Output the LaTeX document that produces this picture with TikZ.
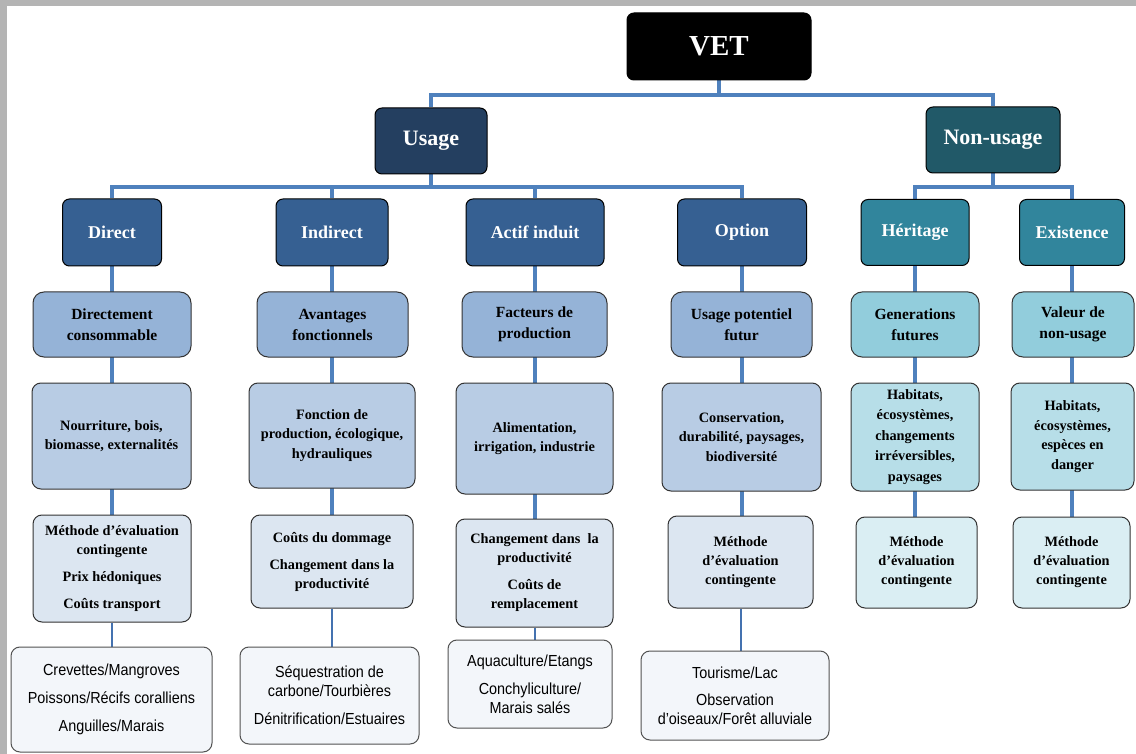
\documentclass[tikz,border=0pt]{standalone}
\usepackage{fontspec}
\setmainfont{Liberation Serif}
\newfontfamily\nsans[FakeStretch=0.9]{Liberation Sans}
\usetikzlibrary{backgrounds}
\definecolor{frame}{HTML}{B4B4B4}
\definecolor{conn}{HTML}{4F81BD}
\definecolor{connb}{HTML}{4472B0}
\definecolor{usagec}{HTML}{243F60}
\definecolor{nonusagec}{HTML}{215968}
\definecolor{ltwo}{HTML}{366092}
\definecolor{ltwon}{HTML}{31859C}
\definecolor{lthree}{HTML}{95B3D7}
\definecolor{lthreen}{HTML}{92CDDC}
\definecolor{lfour}{HTML}{B8CCE4}
\definecolor{lfourn}{HTML}{B7DEE8}
\definecolor{lfive}{HTML}{DCE6F1}
\definecolor{lfiven}{HTML}{DAEEF3}
\definecolor{lsix}{HTML}{F3F6FA}
\definecolor{edge}{HTML}{333333}
\begin{document}
\begin{tikzpicture}[x=1pt,y=-1pt,
  sz/.style 2 args={minimum width=#1pt, minimum height=#2pt},
  box/.style={draw=edge, line width=1pt, rounded corners=9pt, align=center, inner sep=1pt},
  lone/.style={box, draw=black, rounded corners=7pt, text=white, font=\fontsize{22}{24}\selectfont\bfseries},
  vet/.style={lone, fill=black, font=\fontsize{29}{31}\selectfont\bfseries},
  ltw/.style={box, draw=black, rounded corners=7pt, fill=ltwo, text=white, font=\fontsize{18}{20}\selectfont\bfseries},
  ltwn/.style={ltw, fill=ltwon},
  lth/.style={box, rounded corners=11pt, fill=lthree, font=\fontsize{15.5}{21}\selectfont\bfseries},
  lthn/.style={lth, fill=lthreen},
  lfo/.style={box, fill=lfour, font=\fontsize{14.3}{19.5}\selectfont\bfseries},
  lfon/.style={lfo, fill=lfourn},
  lfi/.style={box, fill=lfive, font=\fontsize{14.3}{19}\selectfont\bfseries},
  lfin/.style={lfi, fill=lfiven},
  lsx/.style={box, draw=edge!85, fill=lsix, font=\nsans\fontsize{16}{19}\selectfont},
  cn/.style={draw=conn, line width=3.3pt},
  cnb/.style={draw=connb, line width=2pt}]
\useasboundingbox (0,0) rectangle (1136,754);

% level 0 and 1
\node[vet, sz={184}{67}] (vet) at (719,46.5) {VET};
\node[lone, fill=usagec, sz={112}{66}] (usage) at (431,141) {Usage};
\node[lone, fill=nonusagec, sz={134}{66}] (nonusage) at (993,140) {Non-usage};

% level 2
\node[ltw, sz={99}{67}] (direct) at (112,232.5) {Direct};
\node[ltw, sz={112}{67}] (indirect) at (332,232.5) {Indirect};
\node[ltw, sz={138}{67}] (actif) at (535,232.5) {Actif induit};
\node[ltw, sz={129}{67}] (option) at (742,232.5) {Option};
\node[ltwn, sz={108}{66}] (heritage) at (915,232.5) {Héritage};
\node[ltwn, sz={105}{66}] (existence) at (1072,232.5) {Existence};

% level 3
\node[lth, sz={158}{65}] (d3) at (112,324.5) {Directement\\consommable};
\node[lth, sz={151}{65}] (i3) at (332.5,324.5) {Avantages\\fonctionnels};
\node[lth, sz={145}{65}] (a3) at (534.5,324.5) {Facteurs de\\production};
\node[lth, sz={141}{65}] (o3) at (741.5,324.5) {Usage potentiel\\futur};
\node[lthn, sz={128}{65}] (h3) at (915,324.5) {Generations\\futures};
\node[lthn, sz={122}{65}] (e3) at (1073,324.5) {Valeur de\\non-usage};

% level 4
\node[lfo, sz={159}{106}] (d4) at (111.5,436) {Nourriture, bois,\\biomasse, externalités};
\node[lfo, sz={166}{105}] (i4) at (332,435.5) {Fonction de\\production, écologique,\\hydrauliques};
\node[lfo, sz={157}{111}] (a4) at (534.5,438.5) {Alimentation,\\irrigation, industrie};
\node[lfo, sz={159}{108}] (o4) at (741.5,437) {Conservation,\\durabilité, paysages,\\biodiversité};
\node[lfon, sz={128}{108}, font=\fontsize{14.3}{20.5}\selectfont\bfseries] (h4) at (915,437) {Habitats,\\écosystèmes,\\changements\\irréversibles,\\paysages};
\node[lfon, sz={123}{107}] (e4) at (1072.5,436.5) {Habitats,\\écosystèmes,\\espèces en\\danger};

% level 5
\node[lfi, sz={158}{107}] (d5) at (112,568.5) {Méthode d’évaluation\\contingente\\[8pt]Prix hédoniques\\[8pt]Coûts transport};
\node[lfi, sz={162}{93}] (i5) at (332,561.5) {Coûts du dommage\\[8pt]Changement dans la\\productivité};
\node[lfi, sz={157}{108}] (a5) at (534.5,573) {Changement dans\ \ la\\productivité\\[8pt]Coûts de\\remplacement};
\node[lfi, sz={145}{92}] (o5) at (740.5,562) {Méthode\\d’évaluation\\contingente};
\node[lfin, sz={121}{91}] (h5) at (916.5,562.5) {Méthode\\d'évaluation\\contingente};
\node[lfin, sz={117}{91}] (e5) at (1071.5,562.5) {Méthode\\d’évaluation\\contingente};

% level 6
\node[lsx, sz={201}{105}] (d6) at (111.5,699.5) {Crevettes/Mangroves\\[9pt]Poissons/Récifs coralliens\\[9pt]Anguilles/Marais};
\node[lsx, sz={179}{97}] (i6) at (329.5,695.5) {Séquestration de\\carbone/Tourbières\\[9pt]Dénitrification/Estuaires};
\node[lsx, sz={164}{88}] (a6) at (530,684) {Aquaculture/Etangs\\[9pt]Conchyliculture/\\Marais salés};
\node[lsx, sz={188}{89}] (o6) at (735,695.5) {Tourisme/Lac\\[8pt]Observation\\d’oiseaux/Forêt alluviale};

\coordinate (j0) at (719,95);
\coordinate (j1) at (431,187);
\coordinate (j2) at (993,187);

\begin{scope}[on background layer]
  \fill[frame] (0,0) rectangle (1136,754);
  \fill[white] (7,6) rectangle (1136,754);
  \draw[cn] (vet.south) -- (j0) -| (usage.north);
  \draw[cn] (j0) -| (nonusage.north);
  \draw[cn] (usage.south) -- (j1) -| (direct.north);
  \draw[cn] (j1) -| (indirect.north);
  \draw[cn] (j1) -| (actif.north);
  \draw[cn] (j1) -| (option.north);
  \draw[cn] (nonusage.south) -- (j2) -| (heritage.north);
  \draw[cn] (j2) -| (existence.north);
  \draw[cn] (direct) -- (direct |- d5);
  \draw[cn] (indirect) -- (indirect |- i5);
  \draw[cn] (actif) -- (actif |- a5);
  \draw[cn] (option) -- (option |- o5);
  \draw[cn] (heritage) -- (heritage |- h5);
  \draw[cn] (existence) -- (existence |- e5);
  \draw[cnb] (d5) -- (d5 |- d6);
  \draw[cnb] (i5) -- (i5 |- i6);
  \draw[cnb] (a5) -- (a5 |- a6);
  \draw[cnb] (o5) -- (o5 |- o6);
\end{scope}
\end{tikzpicture}
\end{document}
